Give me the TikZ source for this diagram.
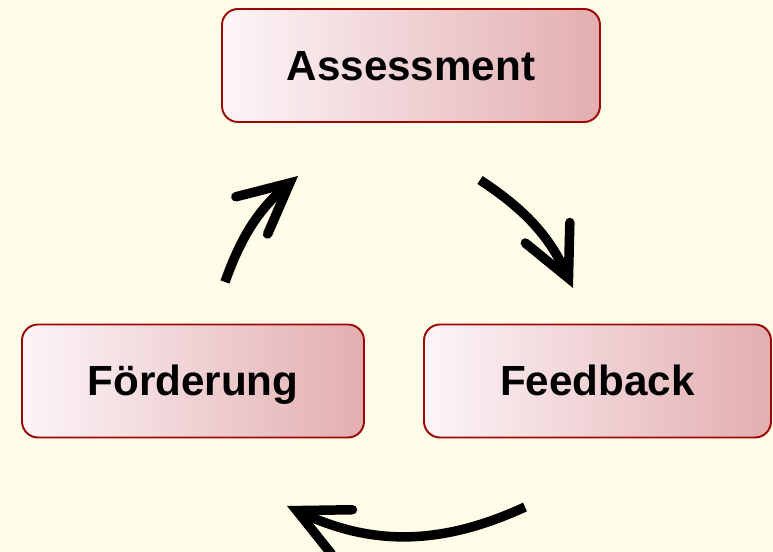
\documentclass[tikz,border=0pt]{standalone}
\usepackage{fontspec}
\setmainfont{Liberation Sans}
\usetikzlibrary{arrows.meta}

\definecolor{paper}{HTML}{FFFCE8}
\definecolor{boxrim}{HTML}{9C0606}
\definecolor{boxlight}{HTML}{FCF5F8}
\definecolor{boxdark}{HTML}{E3AEB0}

\begin{document}
\begin{tikzpicture}[
  stage/.style={draw=boxrim,line width=1.1pt,rounded corners=0.32cm,
    left color=boxlight,right color=boxdark,minimum height=2.26cm,
    text height=0.6cm,text depth=0cm,
    font=\bfseries\fontsize{24}{28}\selectfont},
  cycle/.style={line width=5.4pt,
    -{Straight Barb[length=1.0cm,width=0.98cm,line cap=round,line join=miter]}}
]
\fill[paper] (0,0) rectangle (15.46,11.04);
\useasboundingbox (0,0) rectangle (15.46,11.04);

\node[stage,minimum width=7.56cm] (assess) at (8.22,9.73) {Assessment};
\node[stage,minimum width=6.84cm] (foerd) at (3.86,3.42) {Förderung};
\node[stage,minimum width=6.94cm] (feedb) at (11.95,3.42) {Feedback};

% free ends of the cycle arrows
\coordinate (c1a) at (4.50,5.40); \coordinate (c1b) at (5.96,7.52);
\coordinate (c2a) at (9.60,7.44); \coordinate (c2b) at (11.46,5.28);
\coordinate (c3a) at (10.50,0.90); \coordinate (c3b) at (5.74,0.92);

\draw[cycle] (c1a) to[bend left=15] (c1b);
\draw[cycle] (c2a) to[bend left=16] (c2b);
\draw[cycle] (c3a) to[bend left=25] (c3b);
\end{tikzpicture}
\end{document}
